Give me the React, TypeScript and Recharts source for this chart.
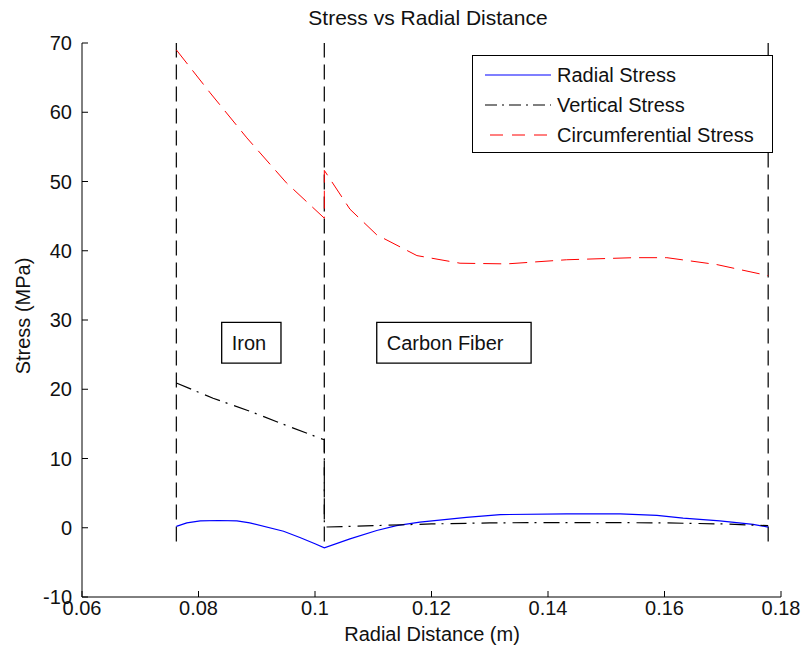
import React from "react";
import {
  LineChart,
  Line,
  XAxis,
  YAxis,
  Legend,
  ReferenceLine,
  ReferenceArea,
} from "recharts";

// radial position (m) and stress (MPa) for each stress component
const radialR = [
  0.0762, 0.078, 0.0803, 0.0835, 0.0866, 0.0888, 0.0946, 0.0974, 0.1, 0.1016,
  0.106, 0.1106, 0.114, 0.118, 0.126, 0.1318, 0.1432, 0.1524, 0.1587, 0.1632,
  0.1695, 0.1752, 0.1778,
];
const radialS = [
  0.2, 0.7, 1.0, 1.05, 1.0, 0.7, -0.5, -1.4, -2.3, -2.9, -1.6, -0.4, 0.3, 0.8,
  1.5, 1.9, 2.0, 2.0, 1.8, 1.4, 1.0, 0.5, 0.1,
];

const verticalR = [
  0.0762, 0.0825, 0.0889, 0.0953, 0.1016, 0.1016, 0.11, 0.12, 0.13, 0.14, 0.15,
  0.16, 0.17, 0.1778,
];
const verticalS = [
  20.9, 18.7, 16.8, 14.7, 12.7, 0.1, 0.3, 0.55, 0.7, 0.75, 0.75, 0.7, 0.55, 0.3,
];

const circR = [
  0.0762, 0.082, 0.0883, 0.0951, 0.1016, 0.1016, 0.106, 0.1106, 0.1175, 0.1249,
  0.1329, 0.1432, 0.1547, 0.1604, 0.169, 0.1778,
];
const circS = [
  69.0, 62.8, 56.3, 49.8, 44.7, 51.6, 46.0, 42.3, 39.3, 38.2, 38.1, 38.7, 39.0,
  39.0, 38.0, 36.4,
];

const seriesNames = ["Radial Stress", "Vertical Stress", "Circumferential Stress"];

// material boundaries: inner bore, iron/carbon interface, outer radius
const boundaries = [0.0762, 0.1016, 0.1778];
const boundarySpan = [-2, 70];

const xTicks = [0.06, 0.08, 0.1, 0.12, 0.14, 0.16, 0.18];
const yTicks = [-10, 0, 10, 20, 30, 40, 50, 60, 70];

const regions = [
  { name: "Iron", x1: 0.08398, x2: 0.09416, y1: 23.78, y2: 29.65 },
  { name: "Carbon Fiber", x1: 0.1106, x2: 0.1371, y1: 23.78, y2: 29.65 },
];

const zip = (r: number[], s: number[]) => r.map((v, i) => ({ r: v, s: s[i] }));

const FONT = "'Liberation Sans', Arial, sans-serif";
const DASH = "15 7";
const DASH_DOT = "16 6 2 7";
const RED_DASH = "18 8";

const legendStyles: Record<string, { dash?: string; x0: number }> = {
  "Radial Stress": { x0: 0 },
  "Vertical Stress": { dash: "12 5 2 5", x0: 0 },
  "Circumferential Stress": { dash: "13 9", x0: 5 },
};

function StressLegend(props: any) {
  // keep plotting order rather than the legend's alphabetical sort
  const items = [...(props.payload || [])].sort(
    (a: any, b: any) => seriesNames.indexOf(a.value) - seriesNames.indexOf(b.value)
  );
  return (
    <div
      style={{
        border: "1px solid #000",
        background: "#fff",
        width: 299,
        height: 96,
        fontFamily: FONT,
        fontSize: 20,
        color: "#111",
      }}
    >
      {items.map((entry: any, i: number) => {
        const st = legendStyles[entry.value] || { x0: 0 };
        return (
          <div
            key={entry.value}
            style={{ display: "flex", alignItems: "center", height: 30, marginTop: i === 0 ? 4 : 0 }}
          >
            <svg width={84} height={30}>
              <line
                x1={12 + st.x0}
                x2={78}
                y1={15}
                y2={15}
                stroke={entry.color}
                strokeWidth={1.2}
                strokeDasharray={st.dash}
              />
            </svg>
            <span>{entry.value}</span>
          </div>
        );
      })}
    </div>
  );
}

export default function App() {
  return (
    <div style={{ position: "absolute", left: 0, top: 0, background: "#fff" }}>
      <LineChart
        width={805}
        height={654}
        margin={{ top: 43, right: 24, bottom: 0, left: 0 }}
        style={{ fontFamily: FONT }}
      >
        <XAxis
          type="number"
          dataKey="r"
          domain={[0.06, 0.18]}
          ticks={xTicks}
          allowDataOverflow
          height={57}
          tickSize={-6}
          tickMargin={10}
          stroke="#000"
          tick={{ fill: "#111", fontSize: 20 }}
        />
        <YAxis
          type="number"
          domain={[-10, 70]}
          ticks={yTicks}
          allowDataOverflow
          width={82}
          tickSize={-6}
          tickMargin={16}
          stroke="#000"
          tick={{ fill: "#111", fontSize: 20 }}
        />
        {boundaries.map((b) => (
          <ReferenceLine
            key={b}
            segment={[
              { x: b, y: boundarySpan[0] },
              { x: b, y: boundarySpan[1] },
            ]}
            stroke="#111"
            strokeWidth={1.3}
            strokeDasharray={DASH}
          />
        ))}
        {regions.map((g) => (
          <ReferenceArea
            key={g.name}
            x1={g.x1}
            x2={g.x2}
            y1={g.y1}
            y2={g.y2}
            fill="#fff"
            fillOpacity={1}
            stroke="#000"
            strokeWidth={1.3}
            label={{
              value: g.name,
              position: "insideLeft",
              offset: 10,
              fill: "#111",
              fontSize: 20,
            }}
          />
        ))}
        <Line
          name={seriesNames[0]}
          data={zip(radialR, radialS)}
          dataKey="s"
          type="linear"
          stroke="#0000ff"
          strokeWidth={1.2}
          dot={false}
          activeDot={false}
          isAnimationActive={false}
        />
        <Line
          name={seriesNames[1]}
          data={zip(verticalR, verticalS)}
          dataKey="s"
          type="linear"
          stroke="#000"
          strokeWidth={1.2}
          strokeDasharray={DASH_DOT}
          dot={false}
          activeDot={false}
          isAnimationActive={false}
        />
        <Line
          name={seriesNames[2]}
          data={zip(circR, circS)}
          dataKey="s"
          type="linear"
          stroke="#ff0000"
          strokeWidth={1}
          strokeDasharray={RED_DASH}
          dot={false}
          activeDot={false}
          isAnimationActive={false}
        />
        <Legend
          layout="horizontal"
          verticalAlign="middle"
          content={<StressLegend />}
          wrapperStyle={{ position: "absolute", left: 472, top: 55, width: 301 }}
        />
        <text x={428} y={25} textAnchor="middle" fontSize={21} fill="#111">
          Stress vs Radial Distance
        </text>
        <text x={432} y={641} textAnchor="middle" fontSize={20} fill="#111">
          Radial Distance (m)
        </text>
        <text
          x={30}
          y={316}
          textAnchor="middle"
          fontSize={20}
          fill="#111"
          transform="rotate(-90, 30, 316)"
        >
          Stress (MPa)
        </text>
      </LineChart>
    </div>
  );
}
